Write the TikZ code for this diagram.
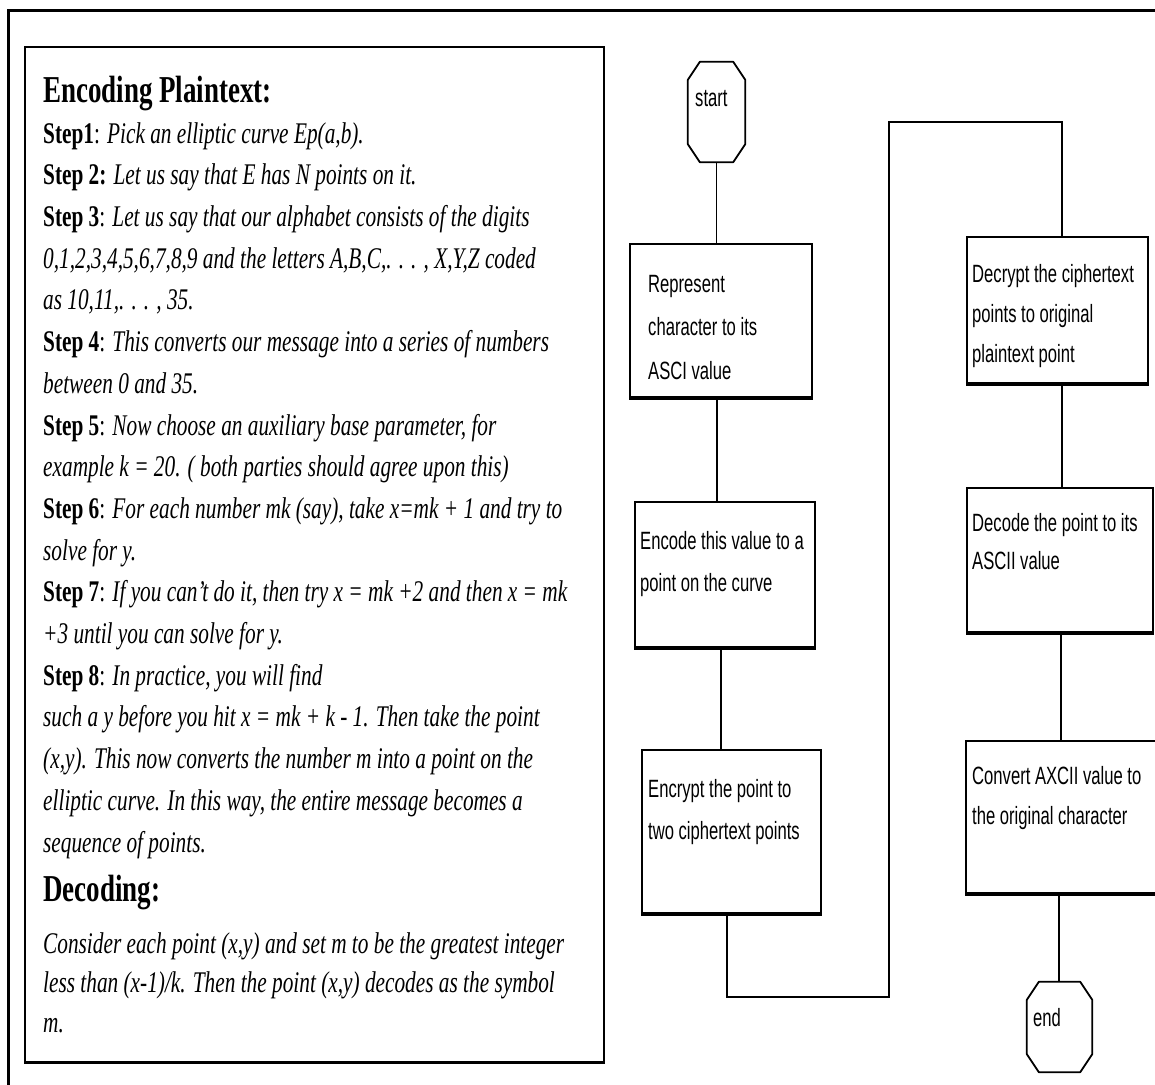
\documentclass[tikz,border=0pt]{standalone}
\usepackage{fontspec}
\setmainfont[FakeStretch=0.71]{Liberation Serif}
\newfontfamily\flowfont[FakeStretch=0.665]{Liberation Sans}
\begin{document}
\begin{tikzpicture}[x=1pt,y=-1pt,
  frameline/.style={line width=3pt},
  panelbox/.style={draw, line width=1.4pt, inner sep=0pt},
  flowbox/.style={draw, line width=1.8pt, inner sep=0pt},
  termbox/.style={draw=none, inner sep=0pt},
  termline/.style={line width=1.8pt, line join=round},
  heading/.style={anchor=base west, inner sep=0pt, font=\bfseries\fontsize{38}{44}\selectfont},
  bodytext/.style={anchor=base west, inner sep=0pt, align=left, font=\fontsize{30}{#1}\selectfont},
  flowtext/.style={anchor=base west, inner sep=0pt, align=left, font=\flowfont\fontsize{25}{#1}\selectfont},
  link/.style={line width=1.6pt},
  loopline/.style={line width=2.6pt}]
\useasboundingbox (0,0) rectangle (1155,1084);
\clip (0,0) rectangle (1155,1084);
\fill[white] (0,0) rectangle (1155,1084);

% outer page frame
\draw[frameline] (8,10) rectangle (1175,1110);

% panel with the encoding / decoding description
\node[panelbox, minimum width=579pt, minimum height=1015pt] (panel) at (314.5,554.5) {};
\draw[line width=3pt] (panel.south west) -- (panel.south east);

% multi-line texts are placed by the baseline of their last line
\node[heading] (enc) at (43,102) {Encoding Plaintext:};
\node[bodytext=41.7] (steps) at (43,852) {%
\textbf{Step1}: \textit{Pick an elliptic curve Ep(a,b).}\\
\textbf{Step 2:} \textit{Let us say that E has N points on it.}\\
\textbf{Step 3}: \textit{Let us say that our alphabet consists of the digits}\\
\textit{0,1,2,3,4,5,6,7,8,9 and the letters A,B,C,. . . , X,Y,Z coded}\\
\textit{as 10,11,. . . , 35.}\\
\textbf{Step 4}: \textit{This converts our message into a series of numbers}\\
\textit{between 0 and 35.}\\
\textbf{Step 5}: \textit{Now choose an auxiliary base parameter, for}\\
\textit{example k = 20. ( both parties should agree upon this)}\\
\textbf{Step 6}: \textit{For each number mk (say), take x=mk + 1 and try to}\\
\textit{solve for y.}\\
\textbf{Step 7}: \textit{If you can't do it, then try x = mk +2 and then x = mk}\\
\textit{+3 until you can solve for y.}\\
\textbf{Step 8}: \textit{In practice, you will find}\\
\textit{such a y before you hit x = mk + k - 1. Then take the point}\\
\textit{(x,y). This now converts the number m into a point on the}\\
\textit{elliptic curve. In this way, the entire message becomes a}\\
\textit{sequence of points.}};
\node[heading] (dec) at (43,901) {Decoding:};
\node[bodytext=39.5] (decsteps) at (43,1032) {%
\textit{Consider each point (x,y) and set m to be the greatest integer}\\
\textit{less than (x-1)/k. Then the point (x,y) decodes as the symbol}\\
\textit{m.}};

% flowchart: terminals
\node[termbox, minimum width=57pt, minimum height=100pt] (start) at (716.5,112) {};
\node[termbox, minimum width=65pt, minimum height=90pt] (end) at (1059.5,1027) {};
\foreach \t in {start,end}{
  \draw[termline] ([xshift=12pt]\t.north west) -- ([xshift=-12pt]\t.north east)
    -- ([yshift=-18pt]\t.north east) -- ([yshift=18pt]\t.south east)
    -- ([xshift=-12pt]\t.south east) -- ([xshift=12pt]\t.south west)
    -- ([yshift=18pt]\t.south west) -- ([yshift=-18pt]\t.north west) -- cycle;
}
\node[flowtext=30] (startt) at (695,106) {start};
\node[flowtext=30] (endt) at (1033,1026) {end};

% flowchart: process boxes
\node[flowbox, minimum width=182pt, minimum height=153pt] (b1) at (721,320.5) {};
\node[flowbox, minimum width=180pt, minimum height=145pt] (b2) at (725,574.5) {};
\node[flowbox, minimum width=179pt, minimum height=163pt] (b3) at (731.5,831.5) {};
\node[flowbox, minimum width=181pt, minimum height=146pt] (b4) at (1057.5,310) {};
\node[flowbox, minimum width=186pt, minimum height=144pt] (b5) at (1060,560) {};
\node[flowbox, minimum width=209pt, minimum height=152pt] (b6) at (1070.5,817) {};
\foreach \n in {b1,b2,b3,b4,b5,b6}{
  \draw[line width=3.2pt] (\n.south west) -- (\n.south east);
}

\node[flowtext=43.5] (b1t) at (648,379) {Represent\\character to its\\ASCI value};
\node[flowtext=42] (b2t) at (640,591) {Encode this value to a\\point on the curve};
\node[flowtext=42] (b3t) at (648,839) {Encrypt the point to\\two ciphertext points};
\node[flowtext=40] (b4t) at (972,362) {Decrypt the ciphertext\\points to original\\plaintext point};
\node[flowtext=38] (b5t) at (972,569) {Decode the point to its\\ASCII value};
\node[flowtext=40] (b6t) at (972,824) {Convert AXCII value to\\the original character};

% connectors
\draw[link] (start.south) -- (start.south |- b1.north);
\draw[link] ([xshift=-4pt]b1.south) -- ([xshift=-4pt]b1.south |- b2.north);
\draw[link] ([xshift=-4pt]b2.south) -- ([xshift=-4pt]b2.south |- b3.north);
\coordinate (loopbot) at (889,997);
\coordinate (looptop) at (889,122);
\coordinate (b3out) at ([xshift=-4.5pt]b3.south);
\coordinate (b4in) at ([xshift=4.5pt]b4.north);
\draw[link] (b3out) |- (loopbot) -- (looptop) -| (b4in);
\draw[loopline] (b3out |- loopbot) -- (loopbot);
\draw[loopline] (looptop) -- (looptop -| b4in);
\draw[link] ([xshift=4.5pt]b4.south) -- ([xshift=4.5pt]b4.south |- b5.north);
\draw[link] ([xshift=1pt]b5.south) -- ([xshift=1pt]b5.south |- b6.north);
\draw[link] ([xshift=-11.5pt]b6.south) -- ([xshift=-11.5pt]b6.south |- end.north);
\end{tikzpicture}
\end{document}
